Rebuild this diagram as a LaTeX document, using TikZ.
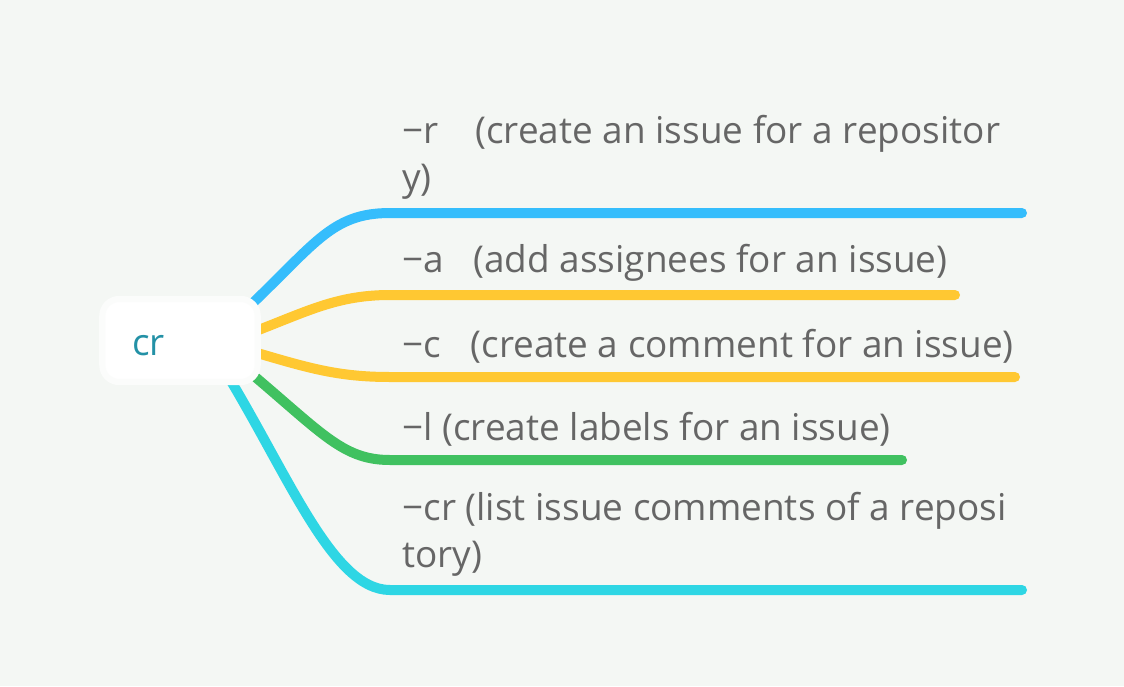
\documentclass[tikz,border=0pt]{standalone}
\usepackage{fontspec}
\setmainfont{Open Sans}
\usetikzlibrary{backgrounds}
\definecolor{PaperGrey}{HTML}{F4F7F4}
\definecolor{TextGrey}{HTML}{666666}
\definecolor{RootTeal}{HTML}{2391A6}
\definecolor{SkyBlue}{HTML}{35BDFC}
\definecolor{SunYellow}{HTML}{FFC832}
\definecolor{LeafGreen}{HTML}{40C160}
\definecolor{AquaCyan}{HTML}{2ED6E4}

\tikzset{
  rootbox/.style={draw=white!60!PaperGrey, line width=4pt, fill=white, rounded corners=11pt,
    minimum width=100pt, minimum height=54pt, text width=62pt, inner xsep=19.5pt,
    text height=18.9pt, text depth=0pt,
    align=left, text=RootTeal, font=\fontsize{24}{28}\selectfont},
  optlabel/.style={anchor=south west, inner sep=0pt, align=left, text=TextGrey,
    font=\fontsize{24}{30.5}\selectfont},
  branch/.style={line width=6.5pt, line cap=round}
}

\begin{document}
\begin{tikzpicture}[x=0.65pt,y=0.65pt,yscale=-1,xscale=1]
		\useasboundingbox (0,0) rectangle (1124,686);

		% Root
		\node[rootbox] (cr) at (180,340.5) {cr};

		% Options, text sits just above each underline
		\node[optlabel] (opt-r) at (402,200) {−r\quad(create an issue for a repositor\\y)};
		\node[optlabel] (opt-a) at (402,282) {−a\hspace{0.8em}(add assignees for an issue)};
		\node[optlabel] (opt-c) at (402,364) {−c\hspace{0.8em}(create a comment for an issue)};
		\node[optlabel] (opt-l) at (402,447) {−l (create labels for an issue)};
		\node[optlabel] (opt-cr) at (402,577) {−cr (list issue comments of a reposi\\tory)};

		% Ends of the underlines
		\coordinate (r-in) at (390,213);   \coordinate (r-out) at (1022,213);
		\coordinate (a-in) at (390,295);   \coordinate (a-out) at (955,295);
		\coordinate (c-in) at (390,377);   \coordinate (c-out) at (1015,377);
		\coordinate (l-in) at (390,460);   \coordinate (l-out) at (902,460);
		\coordinate (cr-in) at (390,590);  \coordinate (cr-out) at (1022,590);

		\begin{scope}[on background layer]
		\fill[PaperGrey] (0,0) rectangle (1124,686);

		% Branches leave from under the root box (yshift is flipped by yscale=-1)
		\draw[branch, SkyBlue] ([xshift=39pt,yshift=-16.5pt]cr.center) .. controls (315,245) and (330,213) .. (r-in) -- (r-out);
		\draw[branch, SunYellow] ([xshift=32.5pt]cr.center) .. controls (300,316) and (330,295) .. (a-in) -- (a-out);
		\draw[branch, SunYellow] ([xshift=32.5pt,yshift=3pt]cr.center) .. controls (300,365) and (330,377) .. (c-in) -- (c-out);
		\draw[branch, LeafGreen] ([xshift=35.75pt,yshift=12.7pt]cr.center) .. controls (320,430) and (340,460) .. (l-in) -- (l-out);
		\draw[branch, AquaCyan] ([xshift=22.75pt,yshift=9.4pt]cr.center) .. controls (285,465) and (330,590) .. (cr-in) -- (cr-out);
		\end{scope}
	\end{tikzpicture}
\end{document}
